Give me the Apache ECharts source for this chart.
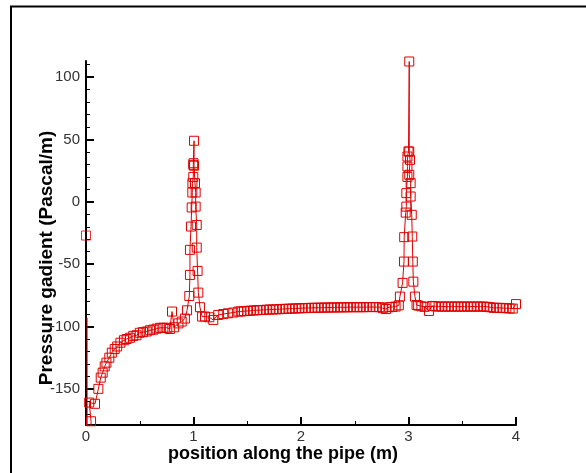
<!DOCTYPE html>
<html>
<head>
<meta charset="utf-8">
<script src="https://cdn.jsdelivr.net/npm/echarts@6/dist/echarts.min.js"></script>
<style>
html,body{margin:0;padding:0;background:#fff;}
#chart{width:586px;height:473px;}
</style>
</head>
<body>
<div id="chart"></div>
<script>
// ---- data ----
var isolatedPoint = [0, -27];
var xs = [
  0.01, 0.012,
  0.047, 0.03, 0.084, 0.115, 0.137, 0.155, 0.174, 0.19, 0.217, 0.24, 0.267, 0.29, 0.32, 0.353,
  0.378, 0.41, 0.44, 0.47, 0.5, 0.53, 0.565, 0.595, 0.627, 0.657, 0.69, 0.72, 0.756, 0.78, 0.80,
  0.82, 0.86, 0.89, 0.92, 0.94, 0.961, 0.967, 0.967, 0.977, 0.983, 0.989, 0.99, 0.998, 0.998, 1.0,
  1.005, 1.005, 1.014, 1.02, 1.02, 1.03, 1.03, 1.038, 1.045, 1.06, 1.08, 1.107, 1.147, 1.184, 1.23,
  1.277, 1.32, 1.37, 1.417,
  1.44, 1.47, 1.50, 1.53, 1.56, 1.59, 1.62, 1.65, 1.68, 1.71, 1.74, 1.77, 1.80, 1.83, 1.86, 1.89,
  1.92, 1.95, 1.98, 2.01, 2.04, 2.07, 2.10, 2.13, 2.16, 2.19, 2.22, 2.25, 2.28, 2.31, 2.34, 2.37,
  2.40, 2.43, 2.46, 2.49, 2.52, 2.55, 2.58, 2.61, 2.64, 2.67, 2.70, 2.73, 2.76, 2.79, 2.82, 2.85, 2.88,
  2.91, 2.92, 2.945, 2.958, 2.96, 2.974, 2.98, 2.98, 2.99, 2.99, 2.99, 3.0, 3.007,
  3.007, 3.014, 3.007, 3.02, 3.02, 3.03, 3.035, 3.04, 3.045, 3.06, 3.075,
  3.09, 3.12, 3.15, 3.19, 3.22, 3.25, 3.28, 3.31, 3.34, 3.37, 3.40, 3.43, 3.46, 3.49, 3.52, 3.55,
  3.58, 3.61, 3.64, 3.67, 3.70, 3.73, 3.76, 3.79, 3.82, 3.85, 3.88, 3.91, 3.94, 3.97, 4.0
];
var ys = [
  -93, -320,
  -176, -161, -162, -150, -141, -137, -132, -129, -125, -121, -118, -116, -113, -111,
  -110, -109, -107.5, -107, -105, -104.5, -104, -103, -102.5, -101.7, -101, -101, -101, -102, -88,
  -100.6, -97.5, -96, -93.6, -87, -75.5, -58.6, -38.5, -19.8, -4.5, 7.5, 15, 20, 29.7, 31,
  49, 29, 15, 7.5, -3.8, -18.5, -36.7, -55.4, -72.8, -84.5, -92, -92, -92.6, -94.7, -90.7,
  -90, -89.4, -88.8, -88,
  -87.9, -87.7, -87.5, -87.3, -87.1, -86.9, -86.8, -86.7, -86.5, -86.4, -86.3, -86.2, -86.1, -85.9, -85.8, -85.7,
  -85.6, -85.5, -85.4, -85.3, -85.2, -85.1, -85.0, -85.0, -84.9, -84.9, -84.8, -84.8, -84.7, -84.7, -84.7, -84.6,
  -84.6, -84.6, -84.5, -84.5, -84.5, -84.5, -84.5, -84.4, -84.4, -84.4, -84.4, -84.5, -85.3, -86, -84.5, -84.3, -84.0,
  -83, -76, -65, -47.9, -28.3, -8.6, -3.8, 7, 20, 28.3, 36.4, 40.4, 112.6,
  40.4, 33.7, 21.7, 15, 4.3, -10.4, -27.8, -47.9, -64, -76, -82.7,
  -83.2, -83.8, -84.2, -87.5, -83.5, -83.8, -84, -84, -84, -84, -84, -84, -84, -84, -84, -84,
  -84, -84, -84, -84, -84, -84.2, -84.5, -85, -85, -85, -85.2, -85.3, -85.5, -85.6, -82
];
var yTickLabels = [-150, -100, -50, 0, 50, 100];
var yMinorTicks = [-170, -160, -140, -130, -120, -110, -90, -80, -70, -60, -40, -30, -20, -10,
                   10, 20, 30, 40, 60, 70, 80, 90, 110];
var xTitle = 'position along the pipe (m)';
var yTitle = 'Pressure gadient (Pascal/m)';

// ---- build ----
var RED = '#e00000';
var lineData = [];
for (var i = 0; i < xs.length; i++) {
  if (i === 0) lineData.push({value: [xs[i], ys[i]], symbol: 'none'});
  else lineData.push([xs[i], ys[i]]);
}
var chart = echarts.init(document.getElementById('chart'), null, {renderer: 'canvas'});
var FONT = '"Liberation Sans", Arial, sans-serif';
var option = {
  animation: false,
  backgroundColor: '#fff',
  grid: {left: 86, right: 70, top: 61, bottom: 48, containLabel: false},
  xAxis: {
    type: 'value', min: 0, max: 4, interval: 1,
    axisLine: {onZero: false, lineStyle: {color: '#000', width: 2}},
    axisTick: {inside: true, length: 8, lineStyle: {color: '#000', width: 2}},
    minorTick: {show: true, splitNumber: 2, length: 4, lineStyle: {color: '#000', width: 1}},
    splitLine: {show: false},
    axisLabel: {color: '#333', fontSize: 15, fontFamily: FONT, margin: 4},
    name: xTitle, nameLocation: 'middle', nameGap: 20, nameMoveOverlap: false,
    nameTextStyle: {color: '#000', fontSize: 18, fontWeight: 'bold', fontFamily: FONT, padding: [0, 36, 0, 0]}
  },
  yAxis: [{
    type: 'value', min: -179, max: 113,
    axisLine: {onZero: false, lineStyle: {color: '#000', width: 2}},
    axisTick: {inside: true, length: 8, customValues: yTickLabels, lineStyle: {color: '#000', width: 2}},
    axisLabel: {customValues: yTickLabels, color: '#333', fontSize: 15, fontFamily: FONT, margin: 6},
    splitLine: {show: false},
    name: yTitle, nameLocation: 'middle', nameGap: 30, nameMoveOverlap: false,
    nameTextStyle: {color: '#000', fontSize: 19, fontWeight: 'bold', fontFamily: FONT, padding: [0, 30, 0, 0]}
  }, {
    type: 'value', min: -179, max: 113, position: 'left', offset: 0,
    axisLine: {show: false},
    axisTick: {show: true, inside: true, length: 4, customValues: yMinorTicks, lineStyle: {color: '#000', width: 1}},
    axisLabel: {show: false},
    splitLine: {show: false}
  }],
  series: [{
    type: 'line', data: lineData, yAxisIndex: 0, clip: true,
    symbol: 'rect', symbolSize: 9, showAllSymbol: true,
    lineStyle: {color: RED, width: 1},
    itemStyle: {color: 'rgba(0,0,0,0)', borderColor: RED, borderWidth: 1},
    emphasis: {disabled: true}, silent: true
  }, {
    type: 'scatter', data: [isolatedPoint], yAxisIndex: 0,
    symbol: 'rect', symbolSize: 9,
    itemStyle: {color: 'rgba(0,0,0,0)', borderColor: RED, borderWidth: 1},
    emphasis: {disabled: true}, silent: true
  }],
  graphic: [{
    type: 'polyline', silent: true,
    shape: {points: [[11, 473], [11, 6.5], [586, 6.5]]},
    style: {stroke: '#000', lineWidth: 2, fill: null}
  }]
};
chart.setOption(option);
</script>
</body>
</html>
